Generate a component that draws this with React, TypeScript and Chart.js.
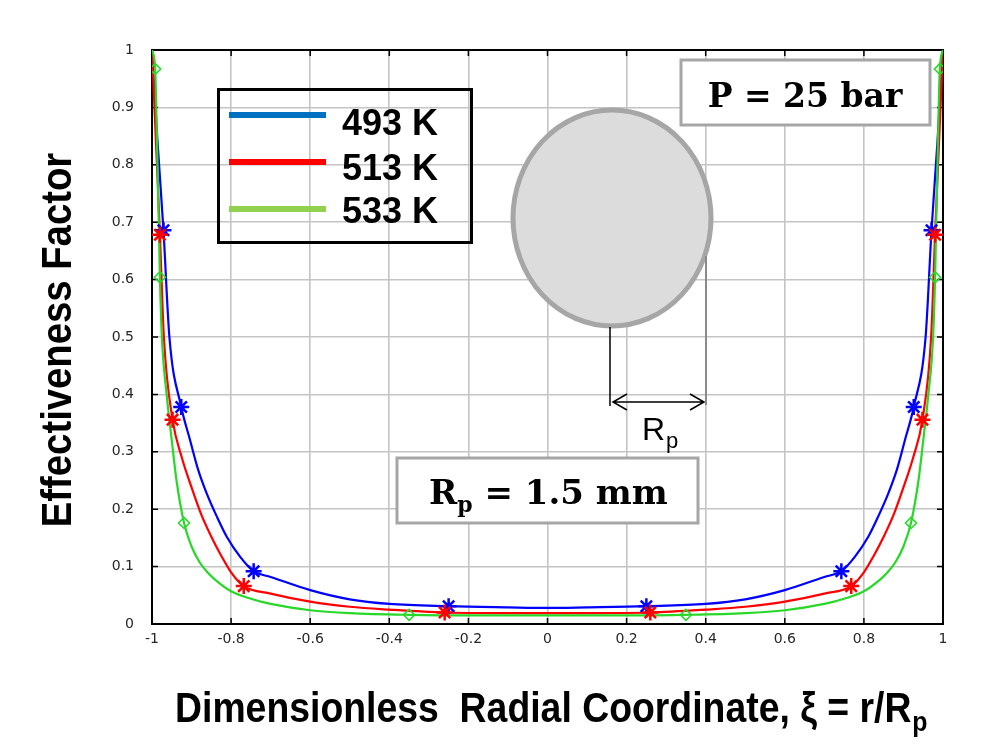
import React, { useEffect, useRef } from "react";
import { Chart, registerables } from "chart.js";

Chart.register(...registerables);

// Effectiveness factor profiles across the pellet, ξ = r/Rp
const xs493 = [-1, -0.986, -0.971, -0.956, -0.926, -0.904, -0.883, -0.862, -0.836, -0.811, -0.777, -0.743, -0.7, -0.6, -0.5, -0.4, -0.25, -0.1, 0, 0.1, 0.25, 0.4, 0.5, 0.6, 0.7, 0.743, 0.777, 0.811, 0.836, 0.862, 0.883, 0.904, 0.926, 0.956, 0.971, 0.986, 1];
const ys493 = [1, 0.84, 0.686, 0.5, 0.378, 0.321, 0.268, 0.228, 0.187, 0.152, 0.117, 0.092, 0.082, 0.059, 0.043, 0.035, 0.031, 0.029, 0.028, 0.029, 0.031, 0.035, 0.043, 0.059, 0.082, 0.092, 0.117, 0.152, 0.187, 0.228, 0.268, 0.321, 0.378, 0.5, 0.686, 0.84, 1];

const xs513 = [-1, -0.99, -0.98, -0.97, -0.948, -0.925, -0.9, -0.875, -0.85, -0.825, -0.8, -0.768, -0.7, -0.6, -0.5, -0.4, -0.26, -0.1, 0, 0.1, 0.26, 0.4, 0.5, 0.6, 0.7, 0.768, 0.8, 0.825, 0.85, 0.875, 0.9, 0.925, 0.948, 0.97, 0.98, 0.99, 1];
const ys513 = [1, 0.84, 0.678, 0.5, 0.356, 0.291, 0.238, 0.19, 0.152, 0.119, 0.09, 0.066, 0.053, 0.039, 0.03, 0.025, 0.02, 0.019, 0.019, 0.019, 0.02, 0.025, 0.03, 0.039, 0.053, 0.066, 0.09, 0.119, 0.152, 0.19, 0.238, 0.291, 0.356, 0.5, 0.678, 0.84, 1];

const xs533 = [-1, -0.992, -0.986, -0.98, -0.975, -0.963, -0.95, -0.938, -0.919, -0.9, -0.88, -0.86, -0.84, -0.8, -0.75, -0.7, -0.6, -0.5, -0.35, -0.2, 0, 0.2, 0.35, 0.5, 0.6, 0.7, 0.75, 0.8, 0.84, 0.86, 0.88, 0.9, 0.919, 0.938, 0.95, 0.963, 0.975, 0.98, 0.986, 0.992, 1];
const ys533 = [1, 0.967, 0.8, 0.604, 0.5, 0.4, 0.32, 0.25, 0.176, 0.135, 0.108, 0.09, 0.077, 0.057, 0.044, 0.035, 0.024, 0.019, 0.016, 0.015, 0.015, 0.015, 0.016, 0.019, 0.024, 0.035, 0.044, 0.057, 0.077, 0.09, 0.108, 0.135, 0.176, 0.25, 0.32, 0.4, 0.5, 0.604, 0.8, 0.967, 1];

// Marked collocation points on each profile
const mx493 = [-0.971, -0.926, -0.743, -0.25, 0.25, 0.743, 0.926, 0.971];
const my493 = [0.686, 0.378, 0.092, 0.031, 0.031, 0.092, 0.378, 0.686];
const mx513 = [-0.98, -0.948, -0.768, -0.26, 0.26, 0.768, 0.948, 0.98];
const my513 = [0.678, 0.356, 0.066, 0.02, 0.02, 0.066, 0.356, 0.678];
const mx533 = [-0.992, -0.98, -0.919, -0.35, 0.35, 0.919, 0.98, 0.992];
const my533 = [0.967, 0.604, 0.176, 0.016, 0.016, 0.176, 0.604, 0.967];

const seriesLabels = ["493 K", "513 K", "533 K"];
const lineColors = ["#0000ff", "#ff0000", "#28d828"];
const legendColors = ["#0070c0", "#ff0000", "#92d050"];

const xAxisTitle = "Dimensionless  Radial Coordinate, ξ = r/R";
const yAxisTitle = "Effectiveness Factor";
const pressureNote = "P = 25 bar";

const W = 992;
const H = 745;

const pts = (xs: number[], ys: number[]) => xs.map((x, i) => ({ x, y: ys[i] }));

const fmt = (v: number) => (Math.abs(v) < 1e-9 ? "0" : String(parseFloat(v.toFixed(1))));

const overlayPlugin = {
  id: "overlay",
  beforeDatasetsDraw(chart: any) {
    const { ctx, chartArea: a, scales } = chart;
    ctx.save();
    // box frame with inward tick marks
    ctx.strokeStyle = "#000";
    ctx.lineWidth = 2;
    ctx.strokeRect(a.left, a.top, a.right - a.left, a.bottom - a.top);
    ctx.lineWidth = 1.5;
    ctx.beginPath();
    for (const t of scales.x.ticks) {
      const px = scales.x.getPixelForValue(t.value);
      ctx.moveTo(px, a.top);
      ctx.lineTo(px, a.top + 6);
      ctx.moveTo(px, a.bottom);
      ctx.lineTo(px, a.bottom - 6);
    }
    for (const t of scales.y.ticks) {
      const py = scales.y.getPixelForValue(t.value);
      ctx.moveTo(a.left, py);
      ctx.lineTo(a.left + 6, py);
      ctx.moveTo(a.right, py);
      ctx.lineTo(a.right - 6, py);
    }
    ctx.stroke();
    ctx.restore();
  },
  afterDraw(chart: any) {
    const { ctx } = chart;
    ctx.save();

    // pellet sketch
    ctx.beginPath();
    ctx.ellipse(612, 218, 99, 108, 0, 0, Math.PI * 2);
    ctx.fillStyle = "#dcdcdc";
    ctx.fill();
    ctx.lineWidth = 5;
    ctx.strokeStyle = "#a6a6a6";
    ctx.stroke();

    // radius dimension
    ctx.lineWidth = 1.5;
    ctx.strokeStyle = "#000";
    ctx.beginPath();
    ctx.moveTo(610, 327);
    ctx.lineTo(610, 406);
    ctx.stroke();
    ctx.strokeStyle = "#8a8a8a";
    ctx.lineWidth = 2;
    ctx.beginPath();
    ctx.moveTo(706, 256);
    ctx.lineTo(706, 405);
    ctx.stroke();
    ctx.strokeStyle = "#000";
    ctx.lineWidth = 1.5;
    ctx.beginPath();
    ctx.moveTo(613, 402);
    ctx.lineTo(704, 402);
    ctx.moveTo(627, 394);
    ctx.lineTo(613, 402);
    ctx.lineTo(627, 410);
    ctx.moveTo(690, 394);
    ctx.lineTo(704, 402);
    ctx.lineTo(690, 410);
    ctx.stroke();
    ctx.fillStyle = "#000";
    ctx.textBaseline = "alphabetic";
    ctx.textAlign = "left";
    ctx.font = "32px 'Liberation Sans', Arial, sans-serif";
    ctx.fillText("R", 642, 440);
    const rw = ctx.measureText("R").width;
    ctx.font = "22px 'Liberation Sans', Arial, sans-serif";
    ctx.fillText("p", 642 + rw + 1, 448);

    // legend
    ctx.lineWidth = 3;
    ctx.strokeStyle = "#000";
    ctx.strokeRect(218.5, 89.5, 253, 153);
    const legY = [115, 162, 209];
    const legBase = [135, 180, 223];
    ctx.lineWidth = 6;
    legendColors.forEach((c, i) => {
      ctx.strokeStyle = c;
      ctx.beginPath();
      ctx.moveTo(229, legY[i]);
      ctx.lineTo(326, legY[i]);
      ctx.stroke();
    });
    ctx.fillStyle = "#000";
    ctx.font = "bold 36px 'Liberation Sans', Arial, sans-serif";
    seriesLabels.forEach((s, i) => ctx.fillText(s, 342, legBase[i]));

    // pressure box
    ctx.fillStyle = "#fff";
    ctx.fillRect(681, 60, 249, 65);
    ctx.lineWidth = 3;
    ctx.strokeStyle = "#a6a6a6";
    ctx.strokeRect(681, 60, 249, 65);
    ctx.fillStyle = "#000";
    ctx.textAlign = "center";
    ctx.font = "bold 33px 'DejaVu Serif', serif";
    ctx.fillText(pressureNote, 805, 107);

    // radius box
    ctx.fillStyle = "#fff";
    ctx.fillRect(397, 458, 301, 65);
    ctx.strokeRect(397, 458, 301, 65);
    ctx.fillStyle = "#000";
    ctx.textAlign = "left";
    ctx.font = "bold 34px 'DejaVu Serif', serif";
    ctx.fillText("R", 429, 504);
    let x = 429 + ctx.measureText("R").width;
    ctx.font = "bold 22px 'DejaVu Serif', serif";
    ctx.fillText("p", x, 512);
    x += ctx.measureText("p").width;
    ctx.font = "bold 34px 'DejaVu Serif', serif";
    ctx.fillText(" = 1.5 mm", x, 504);

    // axis titles (condensed bold sans)
    ctx.fillStyle = "#000";
    ctx.save();
    ctx.translate(175, 722);
    ctx.scale(0.89, 1);
    ctx.textAlign = "left";
    ctx.font = "bold 42px 'Liberation Sans', Arial, sans-serif";
    ctx.fillText(xAxisTitle, 0, 0);
    const tw = ctx.measureText(xAxisTitle).width;
    ctx.font = "bold 28px 'Liberation Sans', Arial, sans-serif";
    ctx.fillText("p", tw + 1, 9);
    ctx.restore();

    ctx.save();
    ctx.translate(71, 340);
    ctx.rotate(-Math.PI / 2);
    ctx.scale(0.89, 1);
    ctx.textAlign = "center";
    ctx.font = "bold 43px 'Liberation Sans', Arial, sans-serif";
    ctx.fillText(yAxisTitle, 0, 0);
    ctx.restore();

    ctx.restore();
  },
};

export default function App() {
  const ref = useRef<HTMLCanvasElement | null>(null);

  useEffect(() => {
    if (!ref.current) return;
    const lineDs = (xs: number[], ys: number[], i: number) => ({
      label: seriesLabels[i],
      data: pts(xs, ys),
      showLine: true,
      borderColor: lineColors[i],
      backgroundColor: lineColors[i],
      borderWidth: 2.2,
      pointRadius: 0,
      cubicInterpolationMode: "monotone" as const,
      order: 5 - i,
    });
    const markDs = (xs: number[], ys: number[], i: number, style: string, r: number, bw: number) => ({
      label: seriesLabels[i] + " points",
      data: pts(xs, ys),
      showLine: false,
      pointStyle: style,
      pointRadius: r,
      pointBorderWidth: bw,
      pointBorderColor: lineColors[i],
      pointBackgroundColor: "rgba(0,0,0,0)",
      order: 0,
    });

    const chart = new Chart(ref.current, {
      type: "scatter",
      data: {
        datasets: [
          lineDs(xs533, ys533, 2),
          lineDs(xs513, ys513, 1),
          lineDs(xs493, ys493, 0),
          markDs(mx533, my533, 2, "rectRot", 5.5, 1.6),
          markDs(mx513, my513, 1, "star", 8, 2.5),
          markDs(mx493, my493, 0, "star", 8, 2.5),
        ] as any,
      },
      options: {
        responsive: false,
        animation: false,
        devicePixelRatio: 1,
        layout: { padding: { left: 112, right: 49, top: 50, bottom: 81 } },
        plugins: { legend: { display: false }, tooltip: { enabled: false } },
        scales: {
          x: {
            type: "linear",
            min: -1,
            max: 1,
            afterFit: (s: any) => {
              s.height = 40;
            },
            ticks: {
              stepSize: 0.2,
              padding: 7,
              color: "#262626",
              font: { family: "'DejaVu Sans', sans-serif", size: 14 },
              callback: (v: any) => fmt(Number(v)),
              maxRotation: 0,
            },
            grid: { color: "#c4c4c4", lineWidth: 1.6, drawTicks: false },
            border: { display: false },
          },
          y: {
            type: "linear",
            min: 0,
            max: 1,
            afterFit: (s: any) => {
              s.width = 40;
            },
            ticks: {
              stepSize: 0.1,
              padding: 18,
              color: "#262626",
              font: { family: "'DejaVu Sans', sans-serif", size: 14 },
              callback: (v: any) => fmt(Number(v)),
            },
            grid: { color: "#c4c4c4", lineWidth: 1.6, drawTicks: false },
            border: { display: false },
          },
        },
      },
      plugins: [overlayPlugin],
    });
    return () => chart.destroy();
  }, []);

  return (
    <div style={{ position: "fixed", left: 0, top: 0, width: W, height: H, background: "#fff" }}>
      <canvas ref={ref} width={W} height={H} style={{ display: "block", width: W, height: H }} />
    </div>
  );
}
